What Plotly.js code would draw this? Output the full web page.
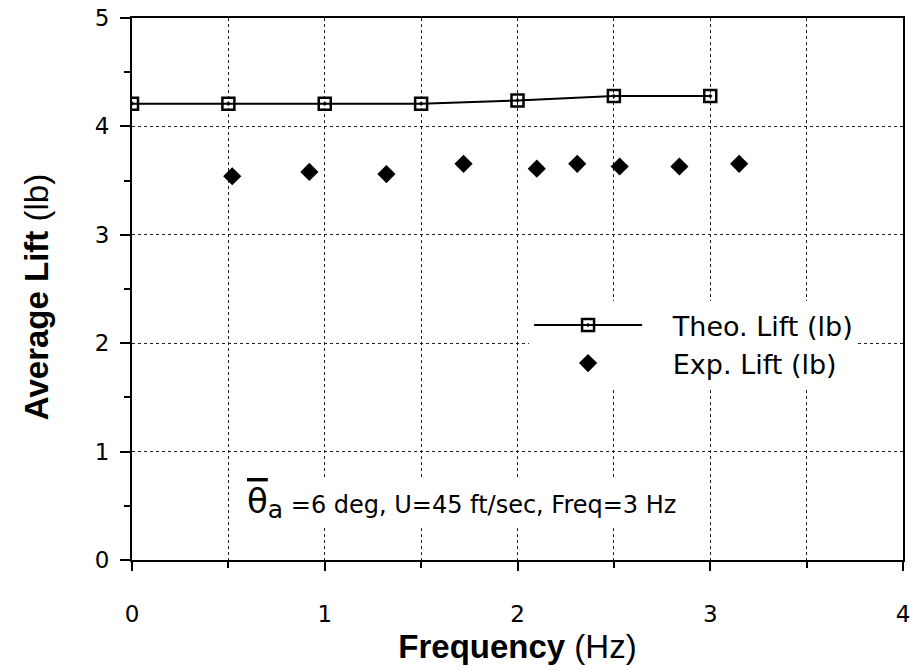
<!DOCTYPE html>
<html><head><meta charset="utf-8">
<script src="https://cdn.plot.ly/plotly-3.0.1.min.js"></script>
<style>body{margin:0;background:#fff}#c{width:913px;height:669px}</style>
</head><body><div id="c"></div>
<script>
const theoFreq = [0, 0.5, 1, 1.5, 2, 2.5, 3];
const theoLift = [4.21, 4.21, 4.21, 4.21, 4.24, 4.28, 4.28];
const expFreq = [0.52, 0.92, 1.32, 1.72, 2.10, 2.31, 2.53, 2.84, 3.15];
const expLift = [3.54, 3.58, 3.56, 3.655, 3.61, 3.655, 3.63, 3.63, 3.655];
const theoName = 'Theo. Lift (lb)';
const expName = 'Exp. Lift (lb)';
const xTitle = '<b>Frequency</b> (Hz)';
const yTitle = '<b>Average Lift</b> (lb)';
const noteText = '<span style="font-size:34px;text-decoration:overline">θ</span><sub><span style="font-size:25px">a</span></sub> =6 deg, U=45 ft/sec, Freq=3 Hz';

const F = 'Liberation Sans, Arial, sans-serif';
const G = 'DejaVu Sans, Verdana, sans-serif';
const pad = '\u00a0\u00a0\u00a0';
const traces = [
  {x: theoFreq, y: theoLift, name: pad + theoName, mode: 'lines+markers', type: 'scatter',
   line: {color: '#000', width: 2},
   marker: {symbol: 'square-open-dot', size: 12, color: '#000', line: {width: 2.5, color: '#000'}}},
  {x: expFreq, y: expLift, name: pad + expName, mode: 'markers', type: 'scatter',
   marker: {symbol: 'diamond', size: 14, color: '#000'}}
];
const layout = {
  width: 913, height: 669,
  margin: {l: 132, r: 10, t: 18, b: 109},
  paper_bgcolor: '#fff', plot_bgcolor: '#fff',
  font: {family: G, color: '#000', size: 20},
  showlegend: true,
  legend: {x: 0.515, y: 0.478, xanchor: 'left', yanchor: 'top', bgcolor: '#fff',
    font: {size: 27, family: G}, itemwidth: 108, tracegroupgap: 0},
  xaxis: {range: [0, 4], dtick: 1, tick0: 0, showline: true, linecolor: '#000', linewidth: 2,
    mirror: true, ticks: 'outside', ticklen: 9, tickwidth: 2, tickcolor: '#000',
    showgrid: true, gridcolor: '#222', griddash: 'dot', gridwidth: 1, zeroline: false,
    minor: {dtick: 0.5, ticks: 'outside', ticklen: 6, tickwidth: 2, tickcolor: '#000', showgrid: true, gridcolor: '#222', griddash: 'dot', gridwidth: 1},
    tickfont: {size: 23, family: G}, ticklabelstandoff: 23,
    title: {text: xTitle, font: {size: 33, family: F}, standoff: 9}},
  yaxis: {range: [0, 5], dtick: 1, tick0: 0, showline: true, linecolor: '#000', linewidth: 2,
    mirror: true, ticks: 'outside', ticklen: 10, tickwidth: 2, tickcolor: '#000',
    showgrid: true, gridcolor: '#222', griddash: 'dot', gridwidth: 1, zeroline: false,
    minor: {dtick: 0.5, ticks: 'outside', ticklen: 6, tickwidth: 2, tickcolor: '#000', showgrid: false},
    tickfont: {size: 23, family: G}, ticklabelstandoff: 6},
  annotations: [
    {x: -0.1245, y: 0.485, xref: 'paper', yref: 'paper', xanchor: 'center', yanchor: 'middle',
     showarrow: false, textangle: -90, text: yTitle, font: {size: 33, family: F}},
    {x: 0.58, y: 0.53, xref: 'x', yref: 'y', xanchor: 'left', yanchor: 'middle', showarrow: false,
     bgcolor: '#fff', borderpad: 2, text: noteText, font: {size: 24, family: G}}
  ]
};
Plotly.newPlot('c', traces, layout, {displayModeBar: false});
</script></body></html>
